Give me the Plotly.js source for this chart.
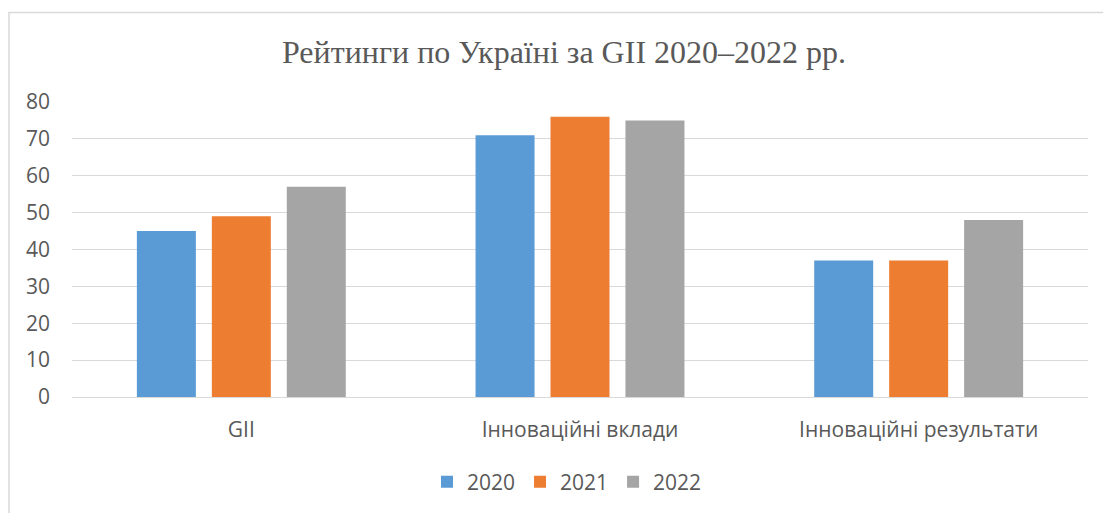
<!DOCTYPE html>
<html>
<head>
<meta charset="utf-8">
<script src="https://cdn.plot.ly/plotly-3.0.1.min.js"></script>
<style>
html,body{margin:0;padding:0;background:#fff;}
#chart{width:1103px;height:513px;}
</style>
</head>
<body>
<div id="chart"></div>
<script>
const categories = ["GII", "Інноваційні вклади", "Інноваційні результати"];
const seriesNames = ["2020", "2021", "2022"];
const values2020 = [45, 71, 37];
const values2021 = [49, 76, 37];
const values2022 = [57, 75, 48];
const yTicks = [0, 10, 20, 30, 40, 50, 60, 70, 80];
const titleText = "Рейтинги по Україні за GII 2020–2022 рр.";

const colors = ["#5B9BD5", "#ED7D31", "#A5A5A5"];
const allValues = [values2020, values2021, values2022];

const traces = seriesNames.map((name, i) => ({
  type: "bar",
  name: name,
  x: categories,
  y: allValues[i],
  marker: {color: colors[i]},
  hoverinfo: "x+y+name"
}));

const W = 1103, H = 513;
const mL = 72, mR = 15, mT = 102, mB = 116;
const pw = W - mL - mR, ph = H - mT - mB;

const layout = {
  width: W, height: H,
  margin: {l: mL, r: mR, t: mT, b: mB, pad: 0},
  paper_bgcolor: "#ffffff",
  plot_bgcolor: "#ffffff",
  font: {family: "Open Sans, DejaVu Sans, sans-serif", size: 21, color: "#595959"},
  title: {
    text: titleText,
    font: {family: "Liberation Serif, Times New Roman, serif", size: 32, color: "#595959"},
    xref: "container", x: 564 / W, xanchor: "center",
    yref: "container", y: 1 - 52 / H, yanchor: "middle"
  },
  barmode: "group",
  bargap: 0.336,
  bargroupgap: 0.213,
  xaxis: {
    showgrid: false,
    showline: false,
    zeroline: false,
    ticks: "",
    ticklabelstandoff: 18,
    tickfont: {size: 21, color: "#595959"}
  },
  yaxis: {
    range: [0, 80],
    tickvals: yTicks,
    ticktext: yTicks.map(String),
    showgrid: true,
    gridcolor: "#D9D9D9",
    gridwidth: 1,
    zeroline: true,
    zerolinecolor: "#D9D9D9",
    zerolinewidth: 1,
    showline: false,
    ticks: "",
    ticklabelstandoff: 21,
    tickfont: {size: 21, color: "#595959"}
  },
  showlegend: true,
  legend: {
    orientation: "h",
    xref: "container", x: 567 / W, xanchor: "center",
    yref: "container", y: 1 - 482 / H, yanchor: "middle",
    font: {size: 21, color: "#595959"},
    itemwidth: 30,
    traceorder: "normal"
  },
  shapes: [{
    type: "rect",
    xref: "paper", yref: "paper",
    x0: (9 - mL) / pw, x1: (1130 - mL) / pw,
    y0: (H - 540 - mB) / ph, y1: (H - 12.5 - mB) / ph,
    line: {color: "#D9D9D9", width: 1.5},
    fillcolor: "rgba(0,0,0,0)",
    layer: "below"
  }]
};

Plotly.newPlot("chart", traces, layout, {displayModeBar: false, staticPlot: true});
</script>
</body>
</html>
